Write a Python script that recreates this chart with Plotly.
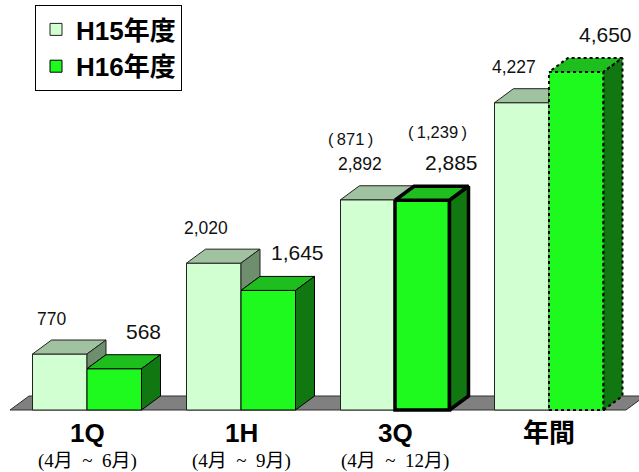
import plotly.graph_objects as go

# ---- data -------------------------------------------------------------
categories = ["1Q", "1H", "3Q", "年間"]
periods = ["(4月\u2002~\u20026月)", "(4月\u2002~\u20029月)", "(4月\u2002~\u200212月)", ""]
series_names = ["H15年度", "H16年度"]
h15 = [770, 2020, 2892, 4227]
h16 = [568, 1645, 2885, 4650]
# Oct-Dec quarter on its own, noted above the 3Q bars
q3_alone_h15 = 871
q3_alone_h16 = 1239

# ---- look -------------------------------------------------------------
W, H = 639, 472
PX_PER_CAT = 154.0        # pixels between category centres
CAT0_PX = 87.0            # pixel x of the first category centre
PX_PER_VAL = 0.0727       # pixels per unit of value
BASE_PX = 410.0           # pixel y of the value 0 (front floor edge)


def dxp(px):
    return px / PX_PER_CAT


def dyp(px):
    return px / PX_PER_VAL


BAR_W = dxp(54.5)
DX = dxp(19)              # depth offset, horizontal
DY = dyp(14)              # depth offset, vertical

H15_FRONT, H15_TOP, H15_SIDE = "#D2FFD2", "#A0C2A0", "#6E8E6E"
H16_FRONT, H16_TOP, H16_SIDE = "#1EFA1E", "#1EBE1E", "#117811"
EDGE15, EDGE16 = "#222222", "#000000"
FLOOR = "#808080"
LABEL_FONT = "Liberation Sans, Arial, Noto Sans CJK JP, sans-serif"
CAT_FONT = "Liberation Sans, Arial, Noto Sans CJK JP, sans-serif"
SUB_FONT = "Liberation Serif, Times New Roman, Noto Sans CJK JP, serif"
TEXT = "#111111"

# outline of each H16 bar: (width, dash)
h16_edges = [(1, "solid"), (1, "solid"), (3.5, "solid"), (2, "3px,3px")]

xs = list(range(len(categories)))
fig = go.Figure()


def face(px, py, fill, color, width, dash="solid"):
    fig.add_trace(go.Scatter(
        x=px + [px[0]], y=py + [py[0]], mode="lines", fill="toself",
        fillcolor=fill, line=dict(color=color, width=width, dash=dash),
        hoverinfo="skip", showlegend=False))


# front faces as bars
fig.add_trace(go.Bar(
    x=xs, y=h15, width=BAR_W, offset=-BAR_W, name=series_names[0],
    marker=dict(color=H15_FRONT, line=dict(color=EDGE15, width=1)),
    hoverinfo="skip"))
fig.add_trace(go.Bar(
    x=xs, y=h16, width=BAR_W, offset=0, name=series_names[1],
    marker=dict(color=H16_FRONT,
                line=dict(color=EDGE16,
                          width=[w if d == "solid" else 0 for w, d in h16_edges])),
    hoverinfo="skip"))

# H15 top and side faces (parts not hidden by the H16 bar)
for i, (a, b) in enumerate(zip(h15, h16)):
    xa, xb = i - BAR_W, i
    if b < a:
        face([xa, xb, xb + DX, xa + DX], [a, a, a + DY, a + DY], H15_TOP, EDGE15, 1)
        face([xb, xb + DX, xb + DX, xb], [b, b + DY, a + DY, a], H15_SIDE, EDGE15, 1)
    else:
        face([xa, xb, xb, xa + DX], [a, a, a + DY, a + DY], H15_TOP, EDGE15, 1)

# H16 top and side faces
for i, v in enumerate(h16):
    xa, xb = i, i + BAR_W
    w, d = h16_edges[i]
    if d != "solid":
        face([xa, xb, xb, xa], [0, 0, v, v], H16_FRONT, EDGE16, w, d)
    face([xa, xb, xb + DX, xa + DX], [v, v, v + DY, v + DY], H16_TOP, EDGE16, w, d)
    face([xb, xb + DX, xb + DX, xb], [0, DY, v + DY, v], H16_SIDE, EDGE16, w, d)

# floor
n = len(categories)
fx0, fx1 = -0.5, n - 0.5
fig.add_shape(type="path", xref="x", yref="y", layer="below",
              path=f"M{fx0},0 L{fx1},0 L{fx1 + DX},{DY} L{fx0 + DX},{DY} Z",
              fillcolor=FLOOR, line=dict(color="#303030", width=1))

# value labels
ann = []
for i, (a, b) in enumerate(zip(h15, h16)):
    ann.append(dict(x=i - BAR_W / 2 + dxp(-8), y=a + dyp(35.5), text=f"{a:,}",
                    font=dict(size=17.5, family=LABEL_FONT, color=TEXT)))
    ann.append(dict(x=i + BAR_W / 2 + dxp(29), y=b + dyp(37.5), text=f"{b:,}",
                    font=dict(size=21, family=LABEL_FONT, color=TEXT)))

# quarter-alone notes above 3Q
k = categories.index("3Q")
ann.append(dict(x=k - BAR_W / 2 + dxp(-8 - 9.5), y=h15[k] + dyp(35.5 + 25),
                text=f"(\u2009{q3_alone_h15:,}\u2009)",
                font=dict(size=16.5, family=LABEL_FONT, color=TEXT)))
ann.append(dict(x=k + BAR_W / 2 + dxp(29 - 14), y=h16[k] + dyp(37.5 + 30.5),
                text=f"(\u2009{q3_alone_h16:,}\u2009)",
                font=dict(size=16.5, family=LABEL_FONT, color=TEXT)))

# category labels
for i, (c, p) in enumerate(zip(categories, periods)):
    ann.append(dict(x=i, y=dyp(-23), text=f"<b>{c}</b>",
                    font=dict(size=26, family=CAT_FONT, color="#000000")))
    if p:
        ann.append(dict(x=i, y=dyp(-51), text=p,
                        font=dict(size=19, family=SUB_FONT, color="#000000")))

for a in ann:
    a.update(xref="x", yref="y", showarrow=False, xanchor="center", yanchor="middle")

fig.update_layout(
    width=W, height=H,
    margin=dict(l=0, r=0, t=0, b=0),
    paper_bgcolor="white", plot_bgcolor="white",
    barmode="overlay",
    showlegend=True,
    legend=dict(x=35 / W, y=1 - 5 / H, xanchor="left", yanchor="top",
                bgcolor="white", bordercolor="#000000", borderwidth=1,
                font=dict(size=26, family=CAT_FONT, color="#000000", weight="bold"),
                entrywidth=152, entrywidthmode="pixels",
                traceorder="normal", tracegroupgap=0),
    xaxis=dict(range=[-CAT0_PX / PX_PER_CAT, (W - CAT0_PX) / PX_PER_CAT],
               visible=False, fixedrange=True),
    yaxis=dict(range=[-(H - BASE_PX) / PX_PER_VAL, BASE_PX / PX_PER_VAL],
               visible=False, fixedrange=True),
    annotations=ann,
    hovermode=False,
)

fig.write_html("out.html", config={"displayModeBar": False})
